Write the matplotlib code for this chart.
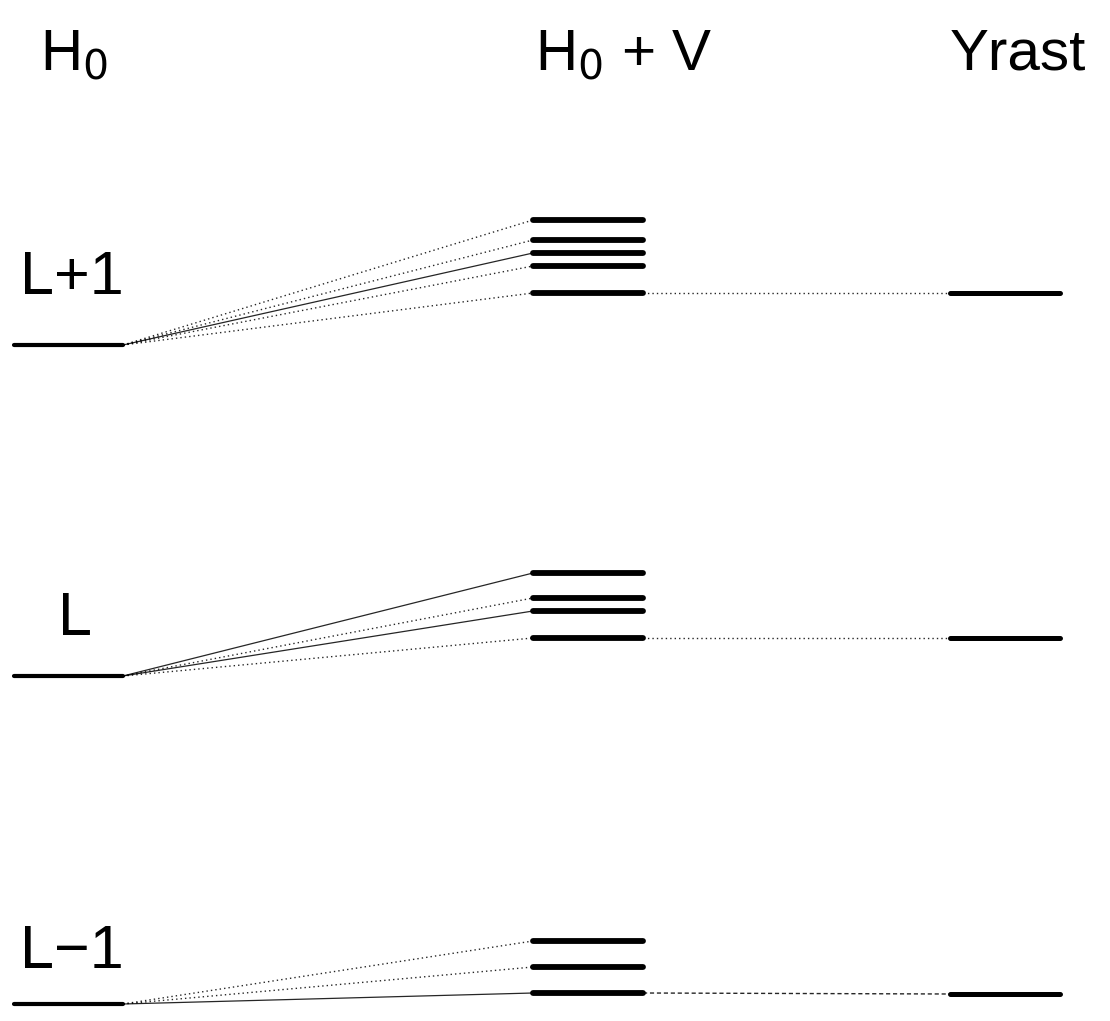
import matplotlib.pyplot as plt

plt.rcParams["font.family"] = ["Liberation Sans", "DejaVu Sans"]

# =========================
# Dados (energia, unidades arbitrárias)
# =========================

MULTIPLETS = ["L+1", "L", "L\u22121"]
H0_LEVELS = [6.59, 3.28, 0.00]
H0V_LEVELS = [
    [7.84, 7.64, 7.51, 7.38, 7.11],
    [4.31, 4.06, 3.93, 3.66],
    [0.63, 0.37, 0.11],
]
# estilo de cada ligação H0 -> H0+V (True = linha cheia)
SOLID_LINKS = [
    [False, False, True, False, False],
    [True, False, True, False],
    [False, False, True],
]
YRAST_LEVELS = [7.11, 3.66, 0.10]
COLUMN_TITLES = ["H$_0$", "H$_0$ + V", "Yrast"]

# =========================
# Layout
# =========================

COL_X = {"h0": (14, 123), "h0v": (533, 643), "yrast": (950, 1060)}
LABEL_POS = [(20, 7.10), (58, 3.69), (20, 0.36)]
TITLE_X = [40, 535, 950]

fig = plt.figure(figsize=(11.1, 10.21), dpi=100)
ax = fig.add_axes([0, 0, 1, 1])
ax.set_xlim(0, 1110)
ax.set_ylim(-0.17, 10.04)
ax.axis("off")

dotted = (0, (1, 2.2))
dashed = (0, (3, 2))

for i, name in enumerate(MULTIPLETS):
    e0 = H0_LEVELS[i]
    ax.plot(COL_X["h0"], [e0, e0], color="black", lw=3.0, solid_capstyle="round")

    for e, solid in zip(H0V_LEVELS[i], SOLID_LINKS[i]):
        ax.plot([COL_X["h0"][1], COL_X["h0v"][0]], [e0, e],
                color="black", lw=0.9 if solid else 1.0,
                linestyle="-" if solid else dotted, alpha=0.85)
        ax.plot(COL_X["h0v"], [e, e], color="black", lw=4.2,
                solid_capstyle="round")

    ey = YRAST_LEVELS[i]
    low = min(H0V_LEVELS[i])
    ax.plot([COL_X["h0v"][1], COL_X["yrast"][0]], [low, ey],
            color="black", lw=1.0,
            linestyle=dashed if i == 2 else dotted, alpha=0.85)
    ax.plot(COL_X["yrast"], [ey, ey], color="black", lw=3.6,
            solid_capstyle="round")

    lx, ly = LABEL_POS[i]
    ax.text(lx, ly, name, fontsize=44, ha="left", va="baseline")

for x, title in zip(TITLE_X, COLUMN_TITLES):
    ax.text(x, 9.34, title, fontsize=42, ha="left", va="baseline")

plt.savefig("out.png", dpi=100)
